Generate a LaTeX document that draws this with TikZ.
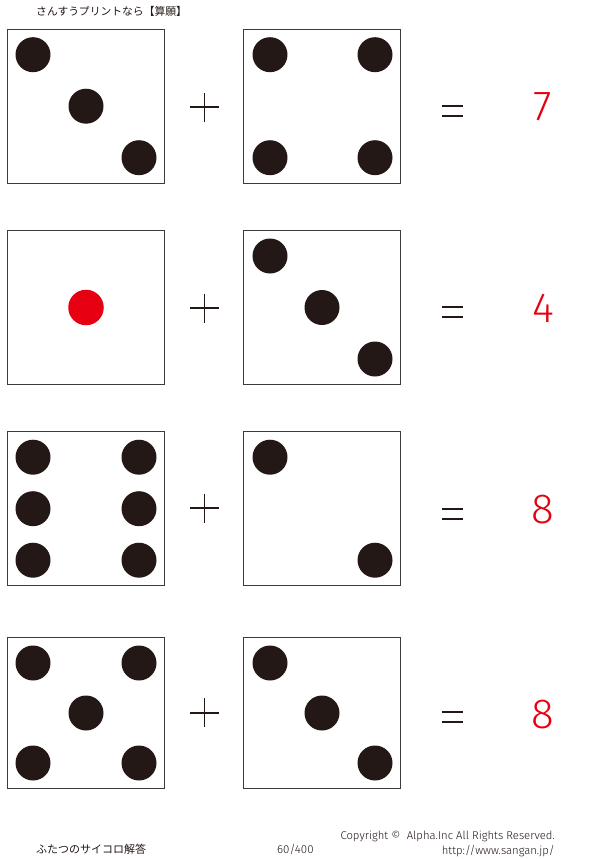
\documentclass[tikz,border=0pt]{standalone}
\usepackage{fontspec}
\setmainfont{Noto Sans CJK JP}
\newfontfamily\jpfont{Noto Sans CJK JP}
\newfontfamily\thinfont{Fira Sans Light}
\definecolor{pipcol}{HTML}{231815}
\definecolor{anscol}{HTML}{E60012}
\definecolor{edgecol}{HTML}{3E3A39}
\begin{document}
\begin{tikzpicture}[x=1pt,y=-1pt,
  diebox/.style={draw=edgecol,line width=1.3pt,minimum width=157pt,inner sep=0pt,fill=white},
  pipdot/.style={circle,fill=pipcol,minimum size=35pt,inner sep=0pt},
  reddot/.style={circle,fill=anscol,minimum size=35.5pt,inner sep=0pt},
  opline/.style={draw=pipcol,line width=1.7pt},
  eqline/.style={draw=pipcol,line width=2.1pt},
  answer/.style={text=anscol,font=\thinfont\fontsize{42}{42}\selectfont,inner sep=0pt},
  smalltxt/.style={text=pipcol,inner sep=0pt}]
\useasboundingbox[fill=white] (0,0) rectangle (600,859);

% header
\node[smalltxt,anchor=west,font=\jpfont\fontsize{10.8}{12}\selectfont] (head) at (36,11) {さんすうプリントなら【算願】};

% ---------- row 1 ----------
\node[diebox,minimum height=154pt] (a1) at (86,106.2) {};
\node[diebox,minimum height=154pt] (b1) at (322,106.2) {};
\begin{scope}[shift={(a1.center)}]
  \node[pipdot] (a1p1) at (-53,-51.5) {};
  \node[pipdot] (a1p2) at (0,0) {};
  \node[pipdot] (a1p3) at (53,51.5) {};
\end{scope}
\begin{scope}[shift={(b1.center)}]
  \node[pipdot] (b1p1) at (-52,-51.5) {};
  \node[pipdot] (b1p2) at (53,-51.5) {};
  \node[pipdot] (b1p3) at (-52,51.5) {};
  \node[pipdot] (b1p4) at (53,51.5) {};
\end{scope}
\coordinate (plus1) at (204.5,107);
\draw[opline] ([xshift=-14.5pt]plus1) -- ([xshift=14.5pt]plus1);
\draw[opline] ([yshift=-14.5pt]plus1) -- ([yshift=14.5pt]plus1);
\coordinate (eq1) at (452.5,111.4);
\draw[eqline] ([shift={(-10.8,-5)}]eq1) -- ([shift={(10.8,-5)}]eq1);
\draw[eqline] ([shift={(-10.8,5)}]eq1) -- ([shift={(10.8,5)}]eq1);
\node[answer] (n1) at (543,107.2) {7};

% ---------- row 2 ----------
\node[diebox,minimum height=154pt] (a2) at (86,307.5) {};
\node[diebox,minimum height=154pt] (b2) at (322,307.5) {};
\node[reddot] (a2p1) at (a2.center) {};
\begin{scope}[shift={(b2.center)}]
  \node[pipdot] (b2p1) at (-52,-51.5) {};
  \node[pipdot] (b2p2) at (0,0) {};
  \node[pipdot] (b2p3) at (53,51.5) {};
\end{scope}
\coordinate (plus2) at (204.5,308);
\draw[opline] ([xshift=-14.5pt]plus2) -- ([xshift=14.5pt]plus2);
\draw[opline] ([yshift=-14.5pt]plus2) -- ([yshift=14.5pt]plus2);
\coordinate (eq2) at (452.5,312.3);
\draw[eqline] ([shift={(-10.8,-5)}]eq2) -- ([shift={(10.8,-5)}]eq2);
\draw[eqline] ([shift={(-10.8,5)}]eq2) -- ([shift={(10.8,5)}]eq2);
\node[answer] (n2) at (543,308.3) {4};

% ---------- row 3 ----------
\node[diebox,minimum height=154pt] (a3) at (86,508.7) {};
\node[diebox,minimum height=154pt] (b3) at (322,508.7) {};
\begin{scope}[shift={(a3.center)}]
  \node[pipdot] (a3p1) at (-53,-51.5) {};
  \node[pipdot] (a3p2) at (53,-51.5) {};
  \node[pipdot] (a3p3) at (-53,0) {};
  \node[pipdot] (a3p4) at (53,0) {};
  \node[pipdot] (a3p5) at (-53,51.5) {};
  \node[pipdot] (a3p6) at (53,51.5) {};
\end{scope}
\begin{scope}[shift={(b3.center)}]
  \node[pipdot] (b3p1) at (-52,-51.5) {};
  \node[pipdot] (b3p2) at (53,51.5) {};
\end{scope}
\coordinate (plus3) at (204.5,508);
\draw[opline] ([xshift=-14.5pt]plus3) -- ([xshift=14.5pt]plus3);
\draw[opline] ([yshift=-14.5pt]plus3) -- ([yshift=14.5pt]plus3);
\coordinate (eq3) at (452.5,514.2);
\draw[eqline] ([shift={(-10.8,-5)}]eq3) -- ([shift={(10.8,-5)}]eq3);
\draw[eqline] ([shift={(-10.8,5)}]eq3) -- ([shift={(10.8,5)}]eq3);
\node[answer] (n3) at (543,510) {8};

% ---------- row 4 ----------
\node[diebox,minimum height=151pt] (a4) at (86,713) {};
\node[diebox,minimum height=151pt] (b4) at (322,713) {};
\begin{scope}[shift={(a4.center)}]
  \node[pipdot] (a4p1) at (-53,-50) {};
  \node[pipdot] (a4p2) at (53,-50) {};
  \node[pipdot] (a4p3) at (0,0) {};
  \node[pipdot] (a4p4) at (-53,50) {};
  \node[pipdot] (a4p5) at (53,50) {};
\end{scope}
\begin{scope}[shift={(b4.center)}]
  \node[pipdot] (b4p1) at (-52,-50) {};
  \node[pipdot] (b4p2) at (0,0) {};
  \node[pipdot] (b4p3) at (53,50) {};
\end{scope}
\coordinate (plus4) at (204.5,712.7);
\draw[opline] ([xshift=-14.5pt]plus4) -- ([xshift=14.5pt]plus4);
\draw[opline] ([yshift=-14.5pt]plus4) -- ([yshift=14.5pt]plus4);
\coordinate (eq4) at (452.5,717);
\draw[eqline] ([shift={(-10.8,-5)}]eq4) -- ([shift={(10.8,-5)}]eq4);
\draw[eqline] ([shift={(-10.8,5)}]eq4) -- ([shift={(10.8,5)}]eq4);
\node[answer] (n4) at (543,714.5) {8};

% footer
\node[smalltxt,anchor=west,font=\jpfont\fontsize{11}{12}\selectfont] (foot1) at (36,849) {ふたつのサイコロ解答};
\node[smalltxt,anchor=west,font=\thinfont\fontsize{11.5}{12}\selectfont] (foot2) at (277,849) {60/400};
\node[smalltxt,anchor=east,font=\thinfont\fontsize{11.3}{12}\selectfont] (foot3) at (555,836) {Copyright \textcopyright\ \ Alpha.Inc All Rights Reserved.};
\node[smalltxt,anchor=east,font=\thinfont\fontsize{11.3}{12}\selectfont] (foot4) at (555,851) {http://www.sangan.jp/};
\end{tikzpicture}
\end{document}
